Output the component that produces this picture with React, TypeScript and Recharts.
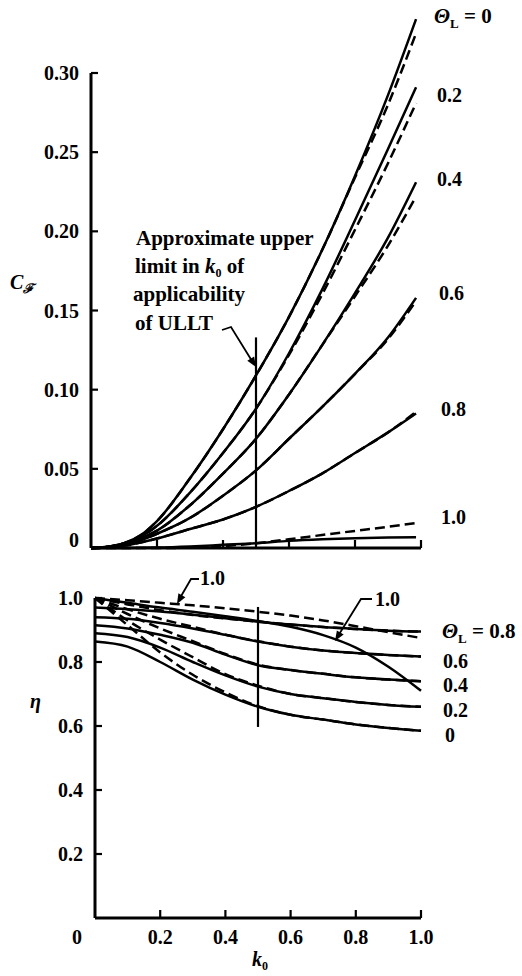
import React from 'react';
import { LineChart, Line, XAxis, YAxis, ReferenceLine } from 'recharts';

const FONT = '"Liberation Serif", "Times New Roman", serif';

// ---------- Top panel: C_F vs k0 ----------
const kTop = [0, 0.05, 0.1, 0.15, 0.2, 0.3, 0.4, 0.5, 0.6, 0.7, 0.8, 0.9, 0.985];
const cfSolid00 = [0, 0.0008, 0.003, 0.008, 0.017, 0.044, 0.075, 0.109, 0.146, 0.188, 0.235, 0.286, 0.334];
const cfDash00 = [0, 0.0008, 0.003, 0.008, 0.017, 0.044, 0.075, 0.109, 0.146, 0.188, 0.234, 0.28, 0.325];
const cfSolid02 = [0, 0.0007, 0.0028, 0.007, 0.014, 0.035, 0.06, 0.088, 0.123, 0.163, 0.207, 0.252, 0.291];
const cfDash02 = [0, 0.0007, 0.0028, 0.007, 0.014, 0.035, 0.06, 0.088, 0.122, 0.16, 0.201, 0.243, 0.281];
const cfSolid04 = [0, 0.0006, 0.0024, 0.006, 0.011, 0.027, 0.047, 0.069, 0.097, 0.128, 0.161, 0.196, 0.231];
const cfDash04 = [0, 0.0006, 0.0024, 0.006, 0.011, 0.027, 0.047, 0.069, 0.097, 0.128, 0.159, 0.191, 0.222];
const cfSolid06 = [0, 0.0005, 0.002, 0.005, 0.009, 0.019, 0.033, 0.049, 0.069, 0.089, 0.11, 0.133, 0.158];
const cfDash06 = [0, 0.0005, 0.002, 0.005, 0.009, 0.019, 0.033, 0.049, 0.069, 0.089, 0.11, 0.132, 0.156];
const cfSolid08 = [0, 0.0004, 0.0015, 0.0035, 0.006, 0.012, 0.018, 0.026, 0.036, 0.047, 0.06, 0.073, 0.085];
const cfDash08 = [0, 0.0004, 0.0015, 0.0035, 0.006, 0.012, 0.018, 0.026, 0.036, 0.047, 0.06, 0.073, 0.086];
const cfSolid10 = [0, 0, 0, 0.0001, 0.0003, 0.001, 0.002, 0.003, 0.0045, 0.0055, 0.0062, 0.0066, 0.0068];
const cfDash10 = [0, 0, 0, 0, 0, 0.0002, 0.0012, 0.003, 0.0055, 0.0082, 0.0108, 0.0134, 0.0158];

const cfTicks = [0, 0.05, 0.1, 0.15, 0.2, 0.25, 0.3];
const cfTickLabels = ['0', '0.05', '0.10', '0.15', '0.20', '0.25', '0.30'];
const kTicksTop = [0.2, 0.4, 0.6, 0.8, 1.0];

// ---------- Bottom panel: eta vs k0 ----------
const kBot = [0, 0.1, 0.2, 0.3, 0.4, 0.5, 0.6, 0.7, 0.8, 0.9, 1.0];
const etaSolid00 = [0.864, 0.848, 0.8, 0.745, 0.698, 0.66, 0.635, 0.62, 0.605, 0.594, 0.585];
const etaDash00 = [1.0, 0.915, 0.83, 0.76, 0.705, 0.662, 0.635, 0.62, 0.605, 0.594, 0.585];
const etaSolid02 = [0.89, 0.878, 0.845, 0.8, 0.758, 0.723, 0.7, 0.687, 0.675, 0.666, 0.66];
const etaDash02 = [1.0, 0.93, 0.87, 0.815, 0.762, 0.726, 0.7, 0.687, 0.675, 0.666, 0.66];
const etaSolid04 = [0.915, 0.905, 0.885, 0.86, 0.823, 0.79, 0.775, 0.763, 0.752, 0.745, 0.74];
const etaDash04 = [1.0, 0.95, 0.905, 0.865, 0.825, 0.792, 0.775, 0.763, 0.752, 0.745, 0.74];
const etaSolid06 = [0.94, 0.935, 0.922, 0.905, 0.885, 0.864, 0.848, 0.836, 0.828, 0.822, 0.817];
const etaDash06 = [1.0, 0.965, 0.935, 0.91, 0.885, 0.865, 0.848, 0.836, 0.828, 0.822, 0.817];
const etaSolid08 = [0.97, 0.965, 0.958, 0.948, 0.937, 0.926, 0.917, 0.909, 0.903, 0.898, 0.895];
const etaDash08 = [1.0, 0.98, 0.962, 0.947, 0.936, 0.926, 0.917, 0.909, 0.903, 0.898, 0.895];
const etaSolid10 = [1.0, 0.985, 0.97, 0.957, 0.943, 0.928, 0.91, 0.884, 0.845, 0.785, 0.71];
const etaDash10 = [1.0, 0.993, 0.985, 0.977, 0.968, 0.957, 0.945, 0.93, 0.912, 0.893, 0.875];

const etaTicks = [0.2, 0.4, 0.6, 0.8, 1.0];
const etaTickLabels = ['0.2', '0.4', '0.6', '0.8', '1.0'];
const kTicksBot = [0, 0.2, 0.4, 0.6, 0.8, 1.0];
const kTickLabels = ['0', '0.2', '0.4', '0.6', '0.8', '1.0'];

const topData = kTop.map((k, i) => ({
  k,
  s00: cfSolid00[i], d00: cfDash00[i],
  s02: cfSolid02[i], d02: cfDash02[i],
  s04: cfSolid04[i], d04: cfDash04[i],
  s06: cfSolid06[i], d06: cfDash06[i],
  s08: cfSolid08[i], d08: cfDash08[i],
  s10: cfSolid10[i], d10: cfDash10[i],
}));

const botData = kBot.map((k, i) => ({
  k,
  s00: etaSolid00[i], d00: etaDash00[i],
  s02: etaSolid02[i], d02: etaDash02[i],
  s04: etaSolid04[i], d04: etaDash04[i],
  s06: etaSolid06[i], d06: etaDash06[i],
  s08: etaSolid08[i], d08: etaDash08[i],
  s10: etaSolid10[i], d10: etaDash10[i],
}));

const seriesKeys = ['00', '02', '04', '06', '08', '10'];

const txt = { fontFamily: FONT, fontWeight: 'bold' as const, fontSize: 20, fill: '#000' };

const TopYTick = (props: any) => {
  const { x, y, payload } = props;
  const v = payload.value;
  const idx = cfTicks.indexOf(v);
  const label = cfTickLabels[idx] ?? String(v);
  return (
    <g>
      {v !== 0 && <line x1={x} x2={x + 7} y1={y} y2={y} stroke="#000" strokeWidth={2.2} />}
      <text x={x - 12} y={v === 0 ? y - 1 : y + 7} textAnchor="end" {...txt}>{label}</text>
    </g>
  );
};

const TopXTick = (props: any) => {
  const { x, y } = props;
  return <line x1={x} x2={x} y1={y} y2={y - 8} stroke="#000" strokeWidth={2.2} />;
};

const BotYTick = (props: any) => {
  const { x, y, payload } = props;
  const idx = etaTicks.indexOf(payload.value);
  return (
    <g>
      <line x1={x} x2={x + 7} y1={y} y2={y} stroke="#000" strokeWidth={2.2} />
      <text x={x - 12} y={y + 7} textAnchor="end" {...txt}>{etaTickLabels[idx]}</text>
    </g>
  );
};

const BotXTick = (props: any) => {
  const { x, y, payload } = props;
  const v = payload.value;
  const idx = kTicksBot.indexOf(v);
  return (
    <g>
      {v !== 0 && <line x1={x} x2={x} y1={y} y2={y - 8} stroke="#000" strokeWidth={2.2} />}
      <text x={v === 0 ? x - 18 : x} y={y + 26} textAnchor="middle" {...txt}>{kTickLabels[idx]}</text>
    </g>
  );
};

function arrowHead(x1: number, y1: number, x2: number, y2: number, len = 10, hw = 4) {
  const dx = x2 - x1, dy = y2 - y1;
  const d = Math.hypot(dx, dy);
  const ux = dx / d, uy = dy / d;
  const bx = x2 - ux * len, by = y2 - uy * len;
  const px = -uy * hw, py = ux * hw;
  return `${x2},${y2} ${bx + px},${by + py} ${bx - px},${by - py}`;
}

const renderLines = () =>
  seriesKeys.flatMap((s) => [
    <Line key={'s' + s} dataKey={'s' + s} type="monotone" stroke="#000" strokeWidth={2.5} dot={false} isAnimationActive={false} />,
    <Line key={'d' + s} dataKey={'d' + s} type="monotone" stroke="#000" strokeWidth={2.5} strokeDasharray="10 5" dot={false} isAnimationActive={false} />,
  ]);

const Theta = ({ x, y, rest }: { x: number; y: number; rest: string }) => (
  <text x={x} y={y} {...txt} fontSize={21}>
    <tspan fontStyle="italic">Θ</tspan>
    <tspan fontSize={13} dy={5}>L</tspan>
    <tspan dy={-5}>{rest}</tspan>
  </text>
);

const ann = { ...txt, fontSize: 21 };

export default function App() {
  return (
    <div style={{ position: 'absolute', left: 0, top: 0, width: 522, height: 976, background: '#fff' }}>
      <div style={{ position: 'absolute', left: 0, top: 0 }}>
        <LineChart width={522} height={560} data={topData} margin={{ top: 1.75, right: 101, bottom: 11, left: 90 }}>
          <XAxis dataKey="k" type="number" domain={[0, 1]} ticks={kTicksTop} interval={0} height={1}
            tickSize={0} tickMargin={0} tickLine={false} tick={<TopXTick />} axisLine={{ stroke: '#000', strokeWidth: 3 }} />
          <YAxis type="number" domain={[0, 0.345]} ticks={cfTicks} interval={0} width={1}
            tickSize={0} tickMargin={0} tickLine={false} tick={<TopYTick />} axisLine={false} />
          <ReferenceLine segment={[{ x: 0, y: 0 }, { x: 0, y: 0.3 }]} stroke="#000" strokeWidth={3} />
          <ReferenceLine segment={[{ x: 0.5, y: 0 }, { x: 0.5, y: 0.133 }]} stroke="#000" strokeWidth={2.2} />
          {renderLines()}
        </LineChart>
      </div>
      <div style={{ position: 'absolute', left: 0, top: 560 }}>
        <LineChart width={522} height={416} data={botData} margin={{ top: 38, right: 101, bottom: 57, left: 94 }}>
          <XAxis dataKey="k" type="number" domain={[0, 1]} ticks={kTicksBot} interval={0} height={1}
            tickSize={0} tickMargin={0} tickLine={false} tick={<BotXTick />} axisLine={{ stroke: '#000', strokeWidth: 3 }} />
          <YAxis type="number" domain={[0, 1]} ticks={etaTicks} interval={0} width={1}
            tickSize={0} tickMargin={0} tickLine={false} tick={<BotYTick />} axisLine={{ stroke: '#000', strokeWidth: 3 }} />
          <ReferenceLine segment={[{ x: 0.5, y: 0.597 }, { x: 0.5, y: 0.972 }]} stroke="#000" strokeWidth={2.2} />
          {renderLines()}
        </LineChart>
      </div>
      <svg width={522} height={976} style={{ position: 'absolute', left: 0, top: 0, pointerEvents: 'none' }}>
        {/* top panel labels */}
        <Theta x={434} y={23} rest=" = 0" />
        <text x={437} y={102} {...txt}>0.2</text>
        <text x={437} y={186} {...txt}>0.4</text>
        <text x={439} y={300} {...txt}>0.6</text>
        <text x={441} y={416} {...txt}>0.8</text>
        <text x={441} y={524} {...txt}>1.0</text>
        <text x={10} y={289} {...txt}>
          <tspan fontStyle="italic">C</tspan>
          <tspan fontSize={13} dy={4} fontStyle="italic">ℱ</tspan>
        </text>
        <text x={136} y={245} {...ann}>Approximate upper</text>
        <text x={135} y={273} {...ann}>
          limit in <tspan fontStyle="italic">k</tspan><tspan fontSize={12} dy={4}>0</tspan><tspan dy={-4}> of</tspan>
        </text>
        <text x={133} y={301} {...ann}>applicability</text>
        <text x={135} y={330} {...ann}>of ULLT</text>
        <polyline points="222,330 231,327 252,361" fill="none" stroke="#000" strokeWidth={1.8} />
        <polygon points={arrowHead(231, 327, 256, 367)} fill="#000" />

        {/* bottom panel labels */}
        <text x={200} y={585} {...txt}>1.0</text>
        <polyline points="199,579 191,579 180,598" fill="none" stroke="#000" strokeWidth={1.8} />
        <polygon points={arrowHead(191, 579, 177, 604)} fill="#000" />
        <text x={375} y={606} {...txt}>1.0</text>
        <polyline points="372,599 361,599 338,636" fill="none" stroke="#000" strokeWidth={1.8} />
        <polygon points={arrowHead(361, 599, 335, 641)} fill="#000" />
        <Theta x={442} y={638} rest=" = 0.8" />
        <text x={443} y={668} {...txt}>0.6</text>
        <text x={443} y={692} {...txt}>0.4</text>
        <text x={443} y={717} {...txt}>0.2</text>
        <text x={445} y={742} {...txt}>0</text>
        <text x={30} y={708} {...txt} fontStyle="italic">η</text>
        <text x={252} y={966} {...txt}>
          <tspan fontStyle="italic">k</tspan><tspan fontSize={12} dy={4}>0</tspan>
        </text>
      </svg>
    </div>
  );
}
